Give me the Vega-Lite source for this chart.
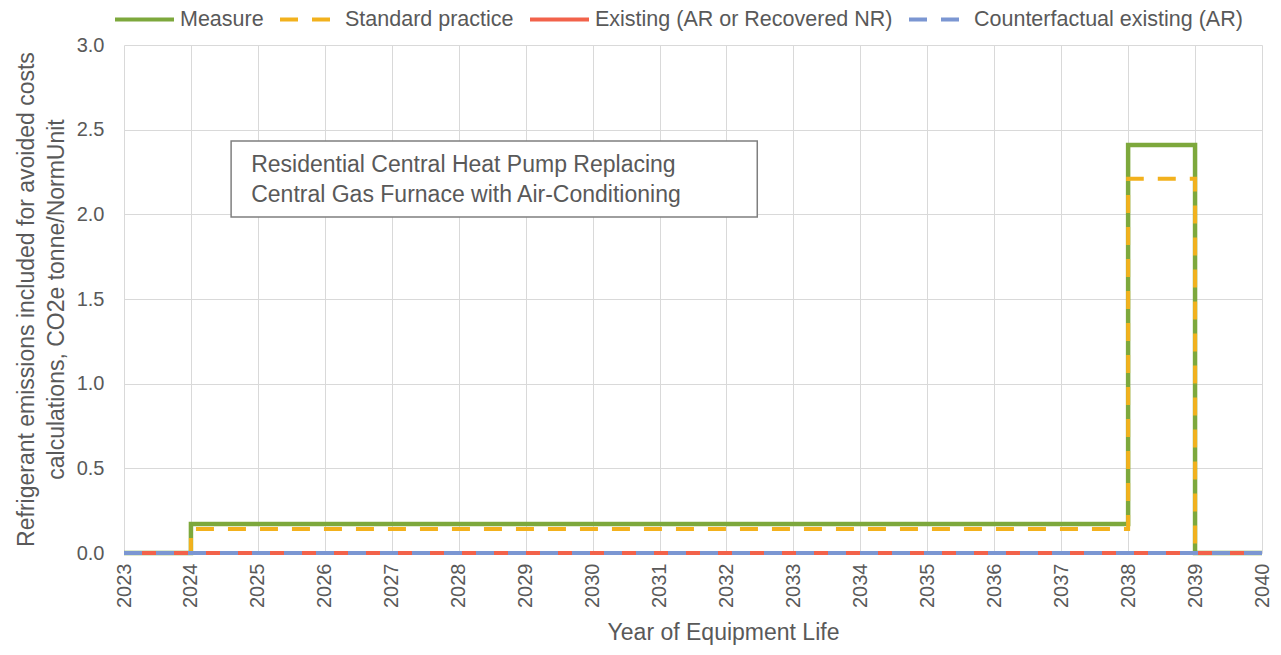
{
  "$schema": "https://vega.github.io/schema/vega-lite/v6.json",
  "width": 1138,
  "height": 508,
  "autosize": {"type": "none"},
  "padding": {"left": 124, "top": 45, "right": 19, "bottom": 102},
  "background": "white",
  "config": {
    "font": "Liberation Sans",
    "view": {"stroke": null},
    "axis": {
      "labelColor": "#595959",
      "titleColor": "#595959",
      "titleFontWeight": "normal",
      "gridColor": "#D9D9D9",
      "gridWidth": 1,
      "ticks": false,
      "domain": false
    }
  },
  "datasets": {
    "series": [
      {"series": "Measure", "year": 2023, "value": 0},
      {"series": "Measure", "year": 2024, "value": 0.171},
      {"series": "Measure", "year": 2025, "value": 0.171},
      {"series": "Measure", "year": 2026, "value": 0.171},
      {"series": "Measure", "year": 2027, "value": 0.171},
      {"series": "Measure", "year": 2028, "value": 0.171},
      {"series": "Measure", "year": 2029, "value": 0.171},
      {"series": "Measure", "year": 2030, "value": 0.171},
      {"series": "Measure", "year": 2031, "value": 0.171},
      {"series": "Measure", "year": 2032, "value": 0.171},
      {"series": "Measure", "year": 2033, "value": 0.171},
      {"series": "Measure", "year": 2034, "value": 0.171},
      {"series": "Measure", "year": 2035, "value": 0.171},
      {"series": "Measure", "year": 2036, "value": 0.171},
      {"series": "Measure", "year": 2037, "value": 0.171},
      {"series": "Measure", "year": 2038, "value": 2.41},
      {"series": "Measure", "year": 2039, "value": 0},
      {"series": "Measure", "year": 2040, "value": 0},
      {"series": "Standard practice", "year": 2023, "value": 0},
      {"series": "Standard practice", "year": 2024, "value": 0.142},
      {"series": "Standard practice", "year": 2025, "value": 0.142},
      {"series": "Standard practice", "year": 2026, "value": 0.142},
      {"series": "Standard practice", "year": 2027, "value": 0.142},
      {"series": "Standard practice", "year": 2028, "value": 0.142},
      {"series": "Standard practice", "year": 2029, "value": 0.142},
      {"series": "Standard practice", "year": 2030, "value": 0.142},
      {"series": "Standard practice", "year": 2031, "value": 0.142},
      {"series": "Standard practice", "year": 2032, "value": 0.142},
      {"series": "Standard practice", "year": 2033, "value": 0.142},
      {"series": "Standard practice", "year": 2034, "value": 0.142},
      {"series": "Standard practice", "year": 2035, "value": 0.142},
      {"series": "Standard practice", "year": 2036, "value": 0.142},
      {"series": "Standard practice", "year": 2037, "value": 0.142},
      {"series": "Standard practice", "year": 2038, "value": 2.21},
      {"series": "Standard practice", "year": 2039, "value": 0},
      {"series": "Standard practice", "year": 2040, "value": 0},
      {"series": "Existing (AR or Recovered NR)", "year": 2023, "value": 0},
      {"series": "Existing (AR or Recovered NR)", "year": 2024, "value": 0},
      {"series": "Existing (AR or Recovered NR)", "year": 2025, "value": 0},
      {"series": "Existing (AR or Recovered NR)", "year": 2026, "value": 0},
      {"series": "Existing (AR or Recovered NR)", "year": 2027, "value": 0},
      {"series": "Existing (AR or Recovered NR)", "year": 2028, "value": 0},
      {"series": "Existing (AR or Recovered NR)", "year": 2029, "value": 0},
      {"series": "Existing (AR or Recovered NR)", "year": 2030, "value": 0},
      {"series": "Existing (AR or Recovered NR)", "year": 2031, "value": 0},
      {"series": "Existing (AR or Recovered NR)", "year": 2032, "value": 0},
      {"series": "Existing (AR or Recovered NR)", "year": 2033, "value": 0},
      {"series": "Existing (AR or Recovered NR)", "year": 2034, "value": 0},
      {"series": "Existing (AR or Recovered NR)", "year": 2035, "value": 0},
      {"series": "Existing (AR or Recovered NR)", "year": 2036, "value": 0},
      {"series": "Existing (AR or Recovered NR)", "year": 2037, "value": 0},
      {"series": "Existing (AR or Recovered NR)", "year": 2038, "value": 0},
      {"series": "Existing (AR or Recovered NR)", "year": 2039, "value": 0},
      {"series": "Existing (AR or Recovered NR)", "year": 2040, "value": 0},
      {"series": "Counterfactual existing (AR)", "year": 2023, "value": 0},
      {"series": "Counterfactual existing (AR)", "year": 2024, "value": 0},
      {"series": "Counterfactual existing (AR)", "year": 2025, "value": 0},
      {"series": "Counterfactual existing (AR)", "year": 2026, "value": 0},
      {"series": "Counterfactual existing (AR)", "year": 2027, "value": 0},
      {"series": "Counterfactual existing (AR)", "year": 2028, "value": 0},
      {"series": "Counterfactual existing (AR)", "year": 2029, "value": 0},
      {"series": "Counterfactual existing (AR)", "year": 2030, "value": 0},
      {"series": "Counterfactual existing (AR)", "year": 2031, "value": 0},
      {"series": "Counterfactual existing (AR)", "year": 2032, "value": 0},
      {"series": "Counterfactual existing (AR)", "year": 2033, "value": 0},
      {"series": "Counterfactual existing (AR)", "year": 2034, "value": 0},
      {"series": "Counterfactual existing (AR)", "year": 2035, "value": 0},
      {"series": "Counterfactual existing (AR)", "year": 2036, "value": 0},
      {"series": "Counterfactual existing (AR)", "year": 2037, "value": 0},
      {"series": "Counterfactual existing (AR)", "year": 2038, "value": 0},
      {"series": "Counterfactual existing (AR)", "year": 2039, "value": 0},
      {"series": "Counterfactual existing (AR)", "year": 2040, "value": 0}
    ],
    "box": [
      {"x1": 2024.6, "x2": 2032.46, "y1": 2.433, "y2": 1.984}
    ],
    "note": [
      {"x": 2024.9, "y": 2.29, "text": "Residential Central Heat Pump Replacing"},
      {"x": 2024.9, "y": 2.115, "text": "Central Gas Furnace with Air-Conditioning"}
    ]
  },
  "encoding": {
    "x": {
      "field": "year",
      "type": "quantitative",
      "scale": {"domain": [2023, 2040], "nice": false, "zero": false},
      "axis": {
        "title": "Year of Equipment Life",
        "values": [2023, 2024, 2025, 2026, 2027, 2028, 2029, 2030, 2031, 2032, 2033, 2034, 2035, 2036, 2037, 2038, 2039, 2040],
        "format": "d",
        "labelAngle": -90,
        "labelAlign": "right",
        "labelBaseline": "middle",
        "labelPadding": 10,
        "labelFontSize": 20,
        "labelFlush": false,
        "labelOverlap": false,
        "titleFontSize": 23,
        "titlePadding": 14,
        "titleX": 599,
        "grid": true
      }
    },
    "y": {
      "field": "value",
      "type": "quantitative",
      "scale": {"domain": [0, 3], "nice": false},
      "axis": {
        "title": ["Refrigerant emissions included for avoided costs", "calculations, CO2e tonne/NormUnit"],
        "values": [0, 0.5, 1, 1.5, 2, 2.5, 3],
        "format": ".1f",
        "labelPadding": 20,
        "labelFontSize": 20,
        "labelFlush": false,
        "titleFontSize": 23,
        "titleLineHeight": 30,
        "titlePadding": 8,
        "grid": true
      }
    }
  },
  "layer": [
    {
      "data": {"name": "series"},
      "transform": [{"filter": "datum.series === 'Measure'"}],
      "mark": {"type": "line", "interpolate": "step-after", "strokeWidth": 4.5, "strokeCap": "butt"},
      "encoding": {
        "color": {
          "field": "series",
          "type": "nominal",
          "scale": {
            "domain": ["Measure", "Standard practice", "Existing (AR or Recovered NR)", "Counterfactual existing (AR)"],
            "range": ["#7DA83C", "#F2B11D", "#F2624A", "#7B96D2"]
          },
          "legend": {
            "orient": "none",
            "legendX": -11,
            "legendY": -57,
            "direction": "horizontal",
            "columns": 4,
            "columnPadding": 8,
            "title": null,
            "symbolType": "stroke",
            "symbolSize": 3481,
            "symbolStrokeWidth": 4,
            "labelFontSize": 21.5,
            "labelColor": "#595959",
            "labelOffset": 4,
            "labelLimit": 500
          }
        },
        "strokeDash": {
          "field": "series",
          "type": "nominal",
          "scale": {
            "domain": ["Measure", "Standard practice", "Existing (AR or Recovered NR)", "Counterfactual existing (AR)"],
            "range": [[1, 0], [18, 14], [1, 0], [18, 14]]
          },
          "legend": {
            "orient": "none",
            "legendX": -11,
            "legendY": -57,
            "direction": "horizontal",
            "columns": 4,
            "columnPadding": 8,
            "title": null,
            "symbolType": "stroke",
            "symbolSize": 3481,
            "symbolStrokeWidth": 4,
            "labelFontSize": 21.5,
            "labelColor": "#595959",
            "labelOffset": 4,
            "labelLimit": 500
          }
        }
      }
    },
    {
      "data": {"name": "series"},
      "transform": [{"filter": "datum.series === 'Standard practice'"}],
      "mark": {"type": "line", "interpolate": "step-after", "strokeWidth": 4, "strokeCap": "butt"},
      "encoding": {
        "color": {"field": "series", "type": "nominal"},
        "strokeDash": {"field": "series", "type": "nominal"}
      }
    },
    {
      "data": {"name": "series"},
      "transform": [{"filter": "datum.series === 'Existing (AR or Recovered NR)'"}],
      "mark": {"type": "line", "interpolate": "step-after", "strokeWidth": 4, "strokeCap": "butt"},
      "encoding": {
        "color": {"field": "series", "type": "nominal"},
        "strokeDash": {"field": "series", "type": "nominal"}
      }
    },
    {
      "data": {"name": "series"},
      "transform": [{"filter": "datum.series === 'Counterfactual existing (AR)'"}],
      "mark": {"type": "line", "interpolate": "step-after", "strokeWidth": 4, "strokeCap": "butt"},
      "encoding": {
        "color": {"field": "series", "type": "nominal"},
        "strokeDash": {"field": "series", "type": "nominal"}
      }
    },
    {
      "data": {"name": "box"},
      "mark": {"type": "rect", "fill": "white", "stroke": "#7F7F7F", "strokeWidth": 1.5},
      "encoding": {
        "x": {"field": "x1", "type": "quantitative"},
        "x2": {"field": "x2"},
        "y": {"field": "y1", "type": "quantitative"},
        "y2": {"field": "y2"}
      }
    },
    {
      "data": {"name": "note"},
      "mark": {"type": "text", "align": "left", "baseline": "middle", "fontSize": 23, "color": "#595959"},
      "encoding": {
        "x": {"field": "x", "type": "quantitative"},
        "y": {"field": "y", "type": "quantitative"},
        "text": {"field": "text"}
      }
    }
  ]
}
